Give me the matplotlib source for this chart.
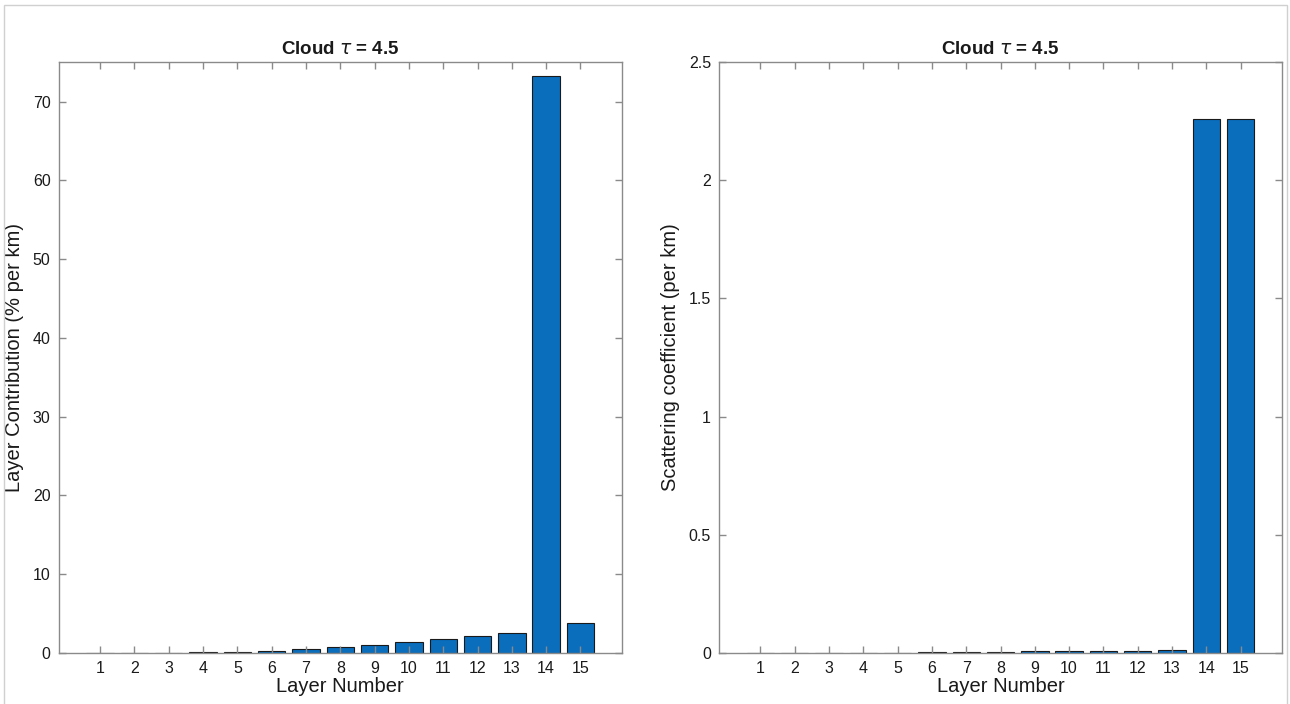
import matplotlib
matplotlib.use("Agg")
import matplotlib.pyplot as plt
from matplotlib.patches import Rectangle

# ------------------------------------------------------------------ #
#  Data
# ------------------------------------------------------------------ #
layers = list(range(1, 16))

contribution = [0.0, 0.0, 0.0, 0.03, 0.08, 0.2, 0.43, 0.68, 0.98,
                1.36, 1.7, 2.12, 2.5, 73.27, 3.81]          # % per km

scattering = [0.0, 0.0, 0.0, 0.0, 0.0, 0.001, 0.002, 0.003, 0.005,
              0.006, 0.007, 0.008, 0.01, 2.26, 2.26]         # per km

left_yticks = [0, 10, 20, 30, 40, 50, 60, 70]
right_yticks = [0, 0.5, 1, 1.5, 2, 2.5]
right_yticklabels = ["0", "0.5", "1", "1.5", "2", "2.5"]

BAR_COLOR = "#0A6EBD"
AXIS_COLOR = "#8a8a8a"
TEXT_COLOR = "#1a1a1a"

plt.rcParams["font.family"] = ["Liberation Sans", "DejaVu Sans"]
plt.rcParams["mathtext.fontset"] = "dejavusans"


def style_axes(ax, ylim, yticks, yticklabels=None):
    ax.set_xlim(-0.2, 16.2)
    ax.set_ylim(*ylim)
    ax.set_xticks(layers)
    ax.set_yticks(yticks)
    if yticklabels is not None:
        ax.set_yticklabels(yticklabels)
    ax.tick_params(direction="in", length=5, width=1, colors=AXIS_COLOR,
                   labelcolor=TEXT_COLOR, labelsize=11.5,
                   top=True, right=True, pad=6)
    for sp in ax.spines.values():
        sp.set_color(AXIS_COLOR)
        sp.set_linewidth(1.0)
    ax.set_xlabel("Layer Number", fontsize=14.5, color=TEXT_COLOR, labelpad=1)
    ax.set_title(r"Cloud $\tau$ = 4.5", fontsize=13.5, fontweight="bold",
                 color=TEXT_COLOR, pad=6)


fig = plt.figure(figsize=(12.9, 7.04), dpi=100)

ax1 = fig.add_axes([0.0457, 0.0729, 0.4362, 0.8385])
ax1.bar(layers, contribution, width=0.8, color=BAR_COLOR,
        edgecolor="#1a1a1a", linewidth=0.8, zorder=1)
style_axes(ax1, (0, 75), left_yticks)
ax1.set_ylabel("Layer Contribution (% per km)", fontsize=14.5,
               color=TEXT_COLOR, labelpad=6)

ax2 = fig.add_axes([0.5576, 0.0729, 0.4360, 0.8385])
ax2.bar(layers, scattering, width=0.8, color=BAR_COLOR,
        edgecolor="#1a1a1a", linewidth=0.8, zorder=1)
style_axes(ax2, (0, 2.5), right_yticks, right_yticklabels)
ax2.set_ylabel("Scattering coefficient (per km)", fontsize=14.5,
               color=TEXT_COLOR, labelpad=6)

# thin light frame around the whole figure
fig.patches.append(Rectangle((4 / 1290, -0.01), 1283 / 1290, 1.0 - 5 / 704 + 0.01,
                             transform=fig.transFigure, fill=False,
                             edgecolor="#d0d0d0", linewidth=1.0))

fig.savefig("out.png", dpi=100)
